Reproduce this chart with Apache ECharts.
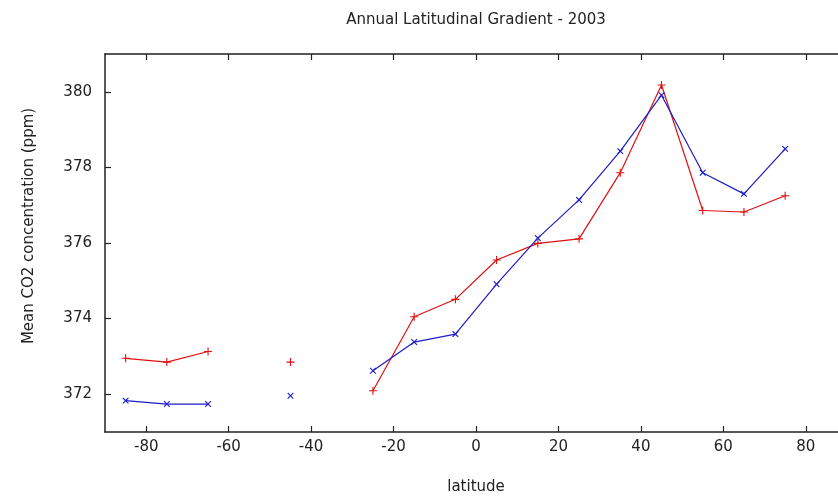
<!DOCTYPE html>
<html>
<head>
<meta charset="utf-8">
<script src="https://cdn.jsdelivr.net/npm/echarts@6/dist/echarts.min.js"></script>
<style>
  html, body { margin: 0; padding: 0; background: #fff; }
  #main { width: 838px; height: 497px; }
</style>
</head>
<body>
<div id="main"></div>
<script>
// latitude bands, null = no data in that band
var latitudes = [-85, -75, -65, -55, -45, -35, -25, -15, -5, 5, 15, 25, 35, 45, 55, 65, 75];
var redValues = [372.95, 372.85, 373.13, null, 372.85, null, 372.09, 374.05, 374.51, 375.55, 375.99, 376.11, 377.86, 380.18, 376.86, 376.82, 377.25];
var blueValues = [371.83, 371.74, 371.74, null, 371.96, null, 372.62, 373.38, 373.59, 374.91, 376.13, 377.14, 378.43, 379.91, 377.86, 377.30, 378.49];
var xTicks = [-80, -60, -40, -20, 0, 20, 40, 60, 80];
var yTicks = [372, 374, 376, 378, 380];

function pairs(vals) {
  var out = [];
  for (var i = 0; i < latitudes.length; i++) {
    out.push([latitudes[i], vals[i]]);
  }
  return out;
}

var plusSym = 'path://M4.3,0H5.7V4.3H10V5.7H5.7V10H4.3V5.7H0V4.3H4.3Z';
var axisCol = '#222';
var txt = { color: '#222', fontFamily: 'DejaVu Sans', fontSize: 15 };

// frame axes: same range, only line + inward ticks
function frameX(pos) {
  return {
    type: 'value', min: -90, max: 90, position: pos,
    axisLine: { show: true, onZero: false, lineStyle: { color: axisCol, width: 1.5 } },
    axisTick: { show: true, inside: true, length: 6, customValues: xTicks, lineStyle: { color: axisCol, width: 1.2 } },
    axisLabel: { show: false },
    splitLine: { show: false }
  };
}
function frameY(pos) {
  return {
    type: 'value', min: 371, max: 381, position: pos,
    axisLine: { show: true, onZero: false, lineStyle: { color: axisCol, width: 1.5 } },
    axisTick: { show: true, inside: true, length: 6, customValues: yTicks, lineStyle: { color: axisCol, width: 1.2 } },
    axisLabel: { show: false },
    splitLine: { show: false }
  };
}

var chart = echarts.init(document.getElementById('main'));
chart.setOption({
  animation: false,
  backgroundColor: '#fff',
  title: {
    text: 'Annual Latitudinal Gradient - 2003',
    left: 471, top: 8, textAlign: 'center',
    textStyle: { color: '#222', fontFamily: 'DejaVu Sans', fontSize: 15, fontWeight: 'normal' }
  },
  grid: { left: 105, top: 54, width: 742, height: 378, outerBoundsMode: 'none', containLabel: false },
  xAxis: [{
    type: 'value', min: -90, max: 90, position: 'bottom',
    name: 'latitude', nameLocation: 'middle', nameGap: 48,
    nameTextStyle: txt,
    axisLine: { show: false, onZero: false },
    axisTick: { show: false },
    axisLabel: { customValues: xTicks, margin: 8, color: '#222', fontFamily: 'DejaVu Sans', fontSize: 15 },
    splitLine: { show: false }
  }, frameX('top'), frameX('bottom')],
  yAxis: [{
    type: 'value', min: 371, max: 381, position: 'left',
    name: 'Mean CO2 concentration (ppm)', nameLocation: 'middle', nameGap: 68,
    nameTextStyle: { color: '#222', fontFamily: 'DejaVu Sans', fontSize: 15, padding: [0, 0, 0, 34] },
    axisLine: { show: false, onZero: false },
    axisTick: { show: false },
    axisLabel: { customValues: yTicks, margin: 13, color: '#222', fontFamily: 'DejaVu Sans', fontSize: 15 },
    splitLine: { show: false }
  }, frameY('right'), frameY('left')],
  series: [{
    name: 'red',
    type: 'line',
    data: pairs(redValues),
    connectNulls: false,
    symbol: plusSym, symbolSize: 8,
    showSymbol: true,
    lineStyle: { color: '#e01010', width: 1.2 },
    itemStyle: { color: '#e01010' }
  }, {
    name: 'blue',
    type: 'line',
    data: pairs(blueValues),
    connectNulls: false,
    symbol: plusSym, symbolSize: 8, symbolRotate: 45,
    showSymbol: true,
    lineStyle: { color: '#1c1cc8', width: 1.2 },
    itemStyle: { color: '#1c1cc8' }
  }]
});
</script>
</body>
</html>
